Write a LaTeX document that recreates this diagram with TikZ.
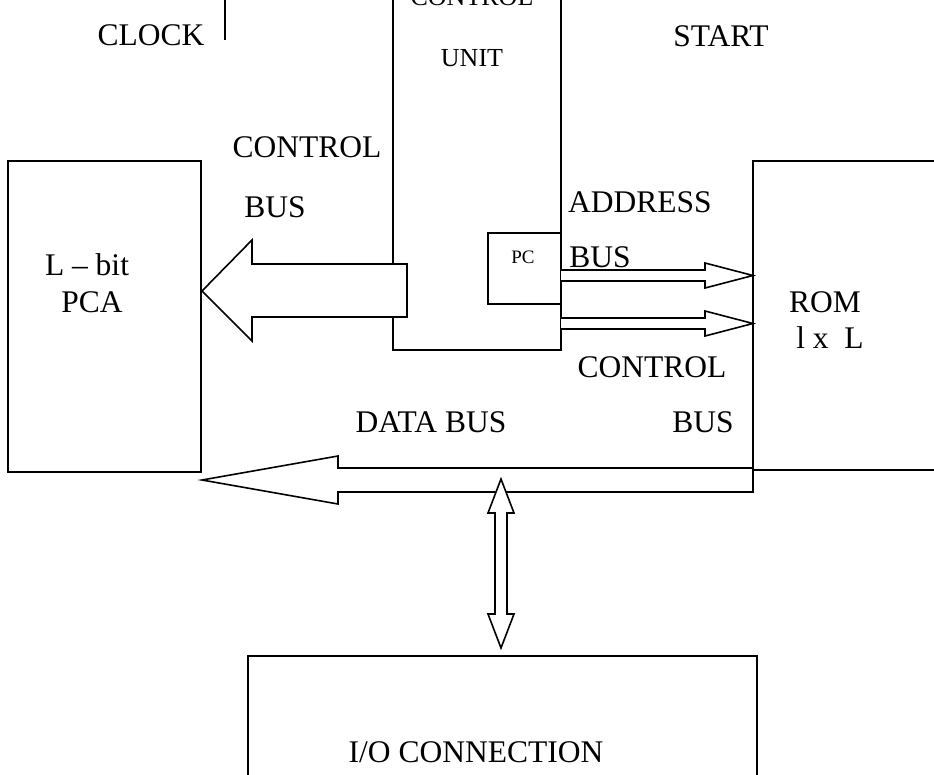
\documentclass[tikz,border=0pt]{standalone}
\usepackage{fontspec}
\setmainfont{Liberation Serif}

\begin{document}
\begin{tikzpicture}[x=1pt,y=-1pt,line width=2pt,
		busarrow/.style={line width=1.6pt,fill=white},
		lbl/.style={anchor=base,inner sep=0pt,font=\fontsize{31.5}{37}\selectfont},
		midlbl/.style={anchor=base,inner sep=0pt,font=\fontsize{26}{30}\selectfont},
		tinylbl/.style={anchor=base,inner sep=0pt,font=\fontsize{19}{22}\selectfont}]
		%%%%% START %%%%%
		\useasboundingbox (0,0) rectangle (934,774);
		\clip (0,0) rectangle (934,774);
		
		% clock line
		\draw (225,-5) -- (225,40);
		
		% control unit with PC
		\draw (393,-10) -- (393,350) -- (561,350) -- (561,-10);
		\draw (561,233) -- (488,233) -- (488,304) -- (561,304);
		
		% PCA and ROM
		\draw (8,161) rectangle (201,472);
		\draw (945,161) -- (753,161) -- (753,468);
		\draw (753,470) -- (945,470);
		
		% I/O
		\draw (248,790) -- (248,656) -- (757,656) -- (757,790);
		
		% control bus to PCA
		\draw[busarrow] (407,264) -- (252,264) -- (252,240) -- (202,291) -- (252,341) -- (252,317) -- (407,317) -- cycle;
		
		% address bus and control bus to ROM
		\draw[busarrow] (561,270) -- (705,270) -- (705,263) -- (753,275.5) -- (705,288) -- (705,281) -- (561,281);
		\draw[busarrow] (561,318) -- (705,318) -- (705,311) -- (753,323.5) -- (705,336) -- (705,329) -- (561,329);
		
		% data bus
		\draw[busarrow] (753,468) -- (338,468) -- (338,456) -- (202,480) -- (338,504) -- (338,492) -- (753,492) -- cycle;
		\draw[busarrow] (501,479) -- (514,513) -- (507,513) -- (507,614) -- (514,614) -- (501,648) -- (488,614) -- (495,614) -- (495,513) -- (488,513) -- cycle;
		
		% labels
		\node[lbl] (clock) at (151,45) {CLOCK};
		\node[lbl] (start) at (721,46) {START};
		\node[midlbl] (cuname) at (472,5) {CONTROL};
		\node[midlbl] (cuunit) at (472,66) {UNIT};
		\node[tinylbl] (pc) at (523,263) {PC};
		\node[lbl] (ctrlL) at (307,157) {CONTROL};
		\node[lbl] (busL) at (275,217) {BUS};
		\node[lbl] (addr) at (640,212) {ADDRESS};
		\node[lbl] (addrbus) at (600,267) {BUS};
		\node[lbl] (ctrlR) at (652,377) {CONTROL};
		\node[lbl] (busR) at (703,432) {BUS};
		\node[lbl] (databus) at (431,432) {DATA BUS};
		\node[lbl] (lbit) at (87,275) {L -- bit};
		\node[lbl] (pca) at (92,312) {PCA};
		\node[lbl] (rom) at (825,312) {ROM};
		\node[lbl] (romsize) at (830,348) {l x\ \ L};
		\node[lbl] (io) at (476,762) {I/O CONNECTION};
		
		%%%%% END %%%%%
	\end{tikzpicture}
\end{document}
